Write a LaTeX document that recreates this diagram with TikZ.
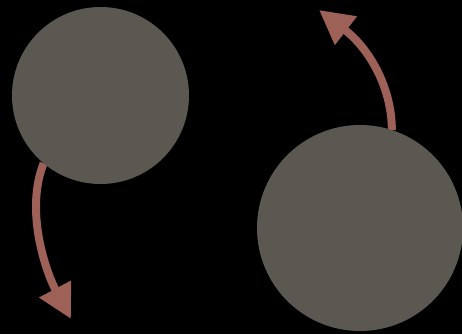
\documentclass[tikz,border=0pt]{standalone}
\usetikzlibrary{arrows.meta}
\definecolor{ballgray}{HTML}{5B5852}
\definecolor{arrowred}{HTML}{9E6158}
\pgfdeclarelayer{bglayer}
\pgfdeclarelayer{arrowlayer}
\pgfsetlayers{bglayer,arrowlayer,main}
\begin{document}
\begin{tikzpicture}[x=1pt,y=-1pt,
  ball/.style={circle,fill=ballgray,inner sep=0pt,outer sep=0pt},
  curvearrow/.style={draw=arrowred,line width=8pt,-{Triangle[length=34pt,width=34pt]}}]
\begin{pgfonlayer}{bglayer}
\fill[black] (0,0) rectangle (462,334);
\end{pgfonlayer}
\useasboundingbox (0,0) rectangle (462,334);
\node[ball,minimum size=177pt] (c1) at (100.5,95.5) {};
\node[ball,minimum size=206pt] (c2) at (360,228) {};
\coordinate (t1) at (71,319);
\coordinate (t2) at (319,10);
\begin{pgfonlayer}{arrowlayer}
\draw[curvearrow] (c1.230) .. controls (25,210) and (45,270) .. (t1);
\draw[curvearrow] (c2.72) .. controls (392,90) and (371,50) .. (t2);
\end{pgfonlayer}
\end{tikzpicture}
\end{document}
